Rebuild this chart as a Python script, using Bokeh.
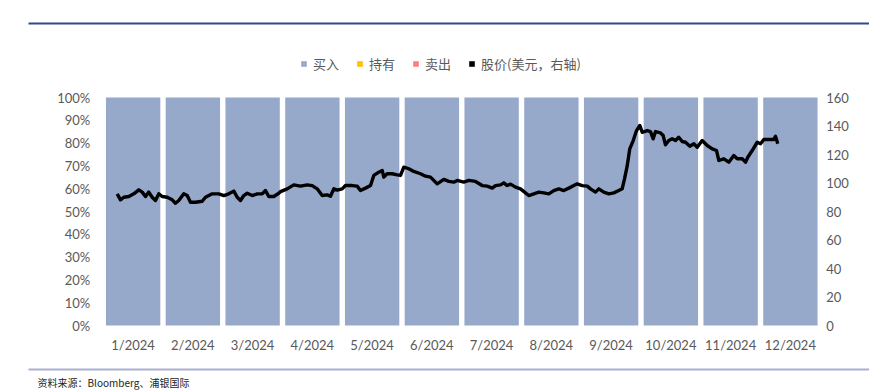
from bokeh.plotting import figure
from bokeh.models import (Range1d, LinearAxis, FixedTicker, NumeralTickFormatter,
                          Legend, LegendItem, Label, BoxAnnotation, ColumnDataSource)
from bokeh.embed import file_html
from bokeh.resources import INLINE

# ---------------- data ----------------
months = ["1/2024", "2/2024", "3/2024", "4/2024", "5/2024", "6/2024",
          "7/2024", "8/2024", "9/2024", "10/2024", "11/2024", "12/2024"]
buy = [1.0] * 12
hold = [0.0] * 12
sell = [0.0] * 12
series_names = ["买入", "持有", "卖出"]
price_label = "股价(美元，右轴)"

# price line: position along the month axis (month index, fractional) and price (USD)
price_pos = [0.233, 0.289, 0.344, 0.428, 0.511, 0.595, 0.652, 0.707, 0.762, 0.819,
             0.874, 0.930, 0.987, 1.070, 1.154, 1.209, 1.264, 1.348, 1.405, 1.460,
             1.544, 1.656, 1.711, 1.823, 1.934, 2.018, 2.101, 2.185, 2.242, 2.297,
             2.352, 2.409, 2.493, 2.577, 2.660, 2.715, 2.771, 2.854, 2.938,
             2.967, 3.079, 3.189, 3.301, 3.413, 3.497, 3.581, 3.664, 3.748, 3.803,
             3.859, 3.915, 3.999, 4.054, 4.167, 4.250, 4.305, 4.389, 4.473, 4.528,
             4.612, 4.669, 4.695, 4.752, 4.836, 4.920, 4.975, 5.030, 5.114, 5.197,
             5.310, 5.393, 5.477, 5.589, 5.700, 5.783, 5.867,
             5.924, 6.034, 6.118, 6.230, 6.342, 6.426, 6.510, 6.565, 6.649, 6.704,
             6.761, 6.816, 6.900, 6.983, 7.067, 7.122, 7.206, 7.290, 7.373, 7.457,
             7.541, 7.624, 7.708, 7.792, 7.875, 7.932, 8.016, 8.100, 8.155, 8.238,
             8.294, 8.377, 8.461, 8.545, 8.628, 8.685, 8.724, 8.769,
             8.812, 8.870, 8.925, 8.980, 9.020, 9.104, 9.159, 9.204, 9.243, 9.326,
             9.371, 9.410, 9.465, 9.522, 9.577, 9.632, 9.690, 9.745, 9.817, 9.884,
             9.941, 10.024, 10.108, 10.192, 10.264, 10.302, 10.386, 10.469, 10.553,
             10.610, 10.694, 10.749, 10.787, 10.861, 10.945, 11.000, 11.055, 11.139,
             11.222, 11.251, 11.289]
price = [92.4, 88.2, 90.0, 90.5, 92.4, 95.2, 93.6, 90.5, 93.6, 90.0,
         87.7, 92.4, 90.5, 90.0, 88.2, 85.8, 87.7, 92.4, 91.2, 86.5,
         86.5, 87.2, 90.0, 92.4, 92.4, 91.2, 92.4, 94.3, 90.0, 87.7,
         91.2, 92.8, 91.2, 92.4, 92.4, 94.7, 90.5, 90.5, 92.8,
         94.0, 95.9, 98.7, 97.8, 98.7, 98.2, 95.9, 91.2, 91.7, 90.7,
         95.9, 95.0, 95.9, 98.2, 98.2, 97.8, 94.7, 96.4, 98.2, 105.3,
         107.6, 108.8, 104.1, 106.5, 106.5, 105.7, 105.3, 111.1, 110.0, 108.1,
         106.5, 104.8, 104.1, 99.4, 102.5, 101.1, 100.6,
         101.8, 100.6, 101.8, 101.1, 98.2, 97.8, 96.4, 98.2, 98.7, 100.1,
         98.2, 99.2, 97.1, 95.9, 93.1, 91.2, 92.4, 93.6, 93.1, 92.4,
         94.7, 95.9, 94.7, 96.4, 98.2, 99.4, 98.2, 97.8, 95.9, 93.6,
         95.9, 93.6, 92.4, 93.1, 94.7, 95.9, 102.9, 112.0,
         124.0, 129.8, 136.8, 140.4, 135.6, 136.8, 136.1, 131.0, 136.1, 135.2,
         133.3, 126.8, 129.8, 131.0, 129.8, 132.1, 129.1, 128.6, 125.8, 127.5,
         125.1, 129.8, 126.3, 124.0, 122.8, 115.8, 117.0, 114.6, 119.3,
         117.0, 117.0, 114.6, 118.1, 122.8, 128.6, 127.5, 130.5, 130.5,
         130.5, 132.8, 127.5]

pct_ticks = [0.0, 0.1, 0.2, 0.3, 0.4, 0.5, 0.6, 0.7, 0.8, 0.9, 1.0]
price_ticks = [0, 20, 40, 60, 80, 100, 120, 140, 160]
price_max = 160
source_note = "资料来源：Bloomberg、浦银国际"

# ---------------- layout constants (pixels) ----------------
W, H = 869, 391
PLOT_L, PLOT_R, PLOT_T, PLOT_B = 102.75, 819.75, 97.0, 325.0
GRAY = "#595959"
TICK_FONT = "Lato"
CJK = "Noto Sans CJK SC"

n = len(months)
px_per_x = (PLOT_R - PLOT_L) / n
px_per_y = (PLOT_B - PLOT_T)          # for 0..1 (100%)
x_range = Range1d(-PLOT_L / px_per_x, n + (W - PLOT_R) / px_per_x)
y_range = Range1d(-(H - PLOT_B) / px_per_y, 1 + PLOT_T / px_per_y)
k = price_max  # price units per 100%
price_range = Range1d(y_range.start * k, y_range.end * k)

p = figure(width=W, height=H, output_backend="svg", toolbar_location=None,
           x_range=x_range, y_range=y_range, min_border=0,
           outline_line_color=None,
           background_fill_color="white", border_fill_color="white")
p.extra_y_ranges = {"price": price_range}
p.xgrid.visible = False
p.ygrid.visible = False

xc = [i + 0.5 for i in range(n)]
src = ColumnDataSource(dict(x=xc, 买入=buy, 持有=hold, 卖出=sell))
colors = ["#97A9CA", "#FFC000", "#FF7C80"]
bars = p.vbar_stack(series_names, x="x", width=0.91, source=src,
                    color=colors, line_color=None)

line_r = p.line(price_pos, price, y_range_name="price",
                line_color="black", line_width=3.4, line_join="round")
# square swatch for the price legend entry: a zero-height bar at the first point
proxy = p.vbar(x=price_pos[:1], top=[0], bottom=[0], width=0,
               y_range_name="price", fill_color="black", line_color=None)


def style(ax):
    ax.axis_line_color = None
    ax.major_tick_line_color = None
    ax.minor_tick_line_color = None
    ax.major_tick_out = 0
    ax.major_tick_in = 0
    ax.minor_tick_out = 0
    ax.minor_tick_in = 0
    ax.major_label_text_color = GRAY
    ax.major_label_text_font = TICK_FONT
    ax.major_label_text_font_size = "13px"


xa = p.xaxis[0]
style(xa)
xa.ticker = FixedTicker(ticks=xc)
xa.major_label_overrides = {xc[i]: months[i] for i in range(n)}
xa.major_label_standoff = 11
xa.fixed_location = 0

ya = p.yaxis[0]
style(ya)
ya.ticker = FixedTicker(ticks=pct_ticks)
ya.formatter = NumeralTickFormatter(format="0%")
ya.major_label_standoff = 13
ya.fixed_location = 0

ra = LinearAxis(y_range_name="price", ticker=FixedTicker(ticks=price_ticks))
style(ra)
ra.major_label_standoff = 6
ra.fixed_location = n
p.add_layout(ra, "right")

items = [LegendItem(label=series_names[i], renderers=[bars[i]]) for i in range(3)]
items.append(LegendItem(label=price_label, renderers=[proxy]))
legend = Legend(items=items, orientation="horizontal", location=(300, H - 73),
                glyph_width=7, glyph_height=7, label_standoff=6, spacing=17,
                padding=0, margin=0, border_line_color=None,
                background_fill_alpha=0, label_text_font=CJK,
                label_text_font_size="13px", label_text_color=GRAY,
                label_height=14)
p.add_layout(legend, "center")

# header and footer rules, source note
p.add_layout(BoxAnnotation(left=28, right=W, bottom=H - 24, top=H - 22,
                           left_units="screen", right_units="screen",
                           bottom_units="screen", top_units="screen",
                           fill_color="#2F4B8C", fill_alpha=1, line_color=None))
p.add_layout(BoxAnnotation(left=28, right=W, bottom=H - 370, top=H - 368,
                           left_units="screen", right_units="screen",
                           bottom_units="screen", top_units="screen",
                           fill_color="#A7AFD2", fill_alpha=1, line_color=None))
p.add_layout(Label(x=37, y=H - 381.5, x_units="screen", y_units="screen",
                   text=source_note, text_font=CJK, text_font_size="10px",
                   text_color="#222222", text_baseline="middle"))

open("out.html", "w").write(file_html(p, INLINE))
